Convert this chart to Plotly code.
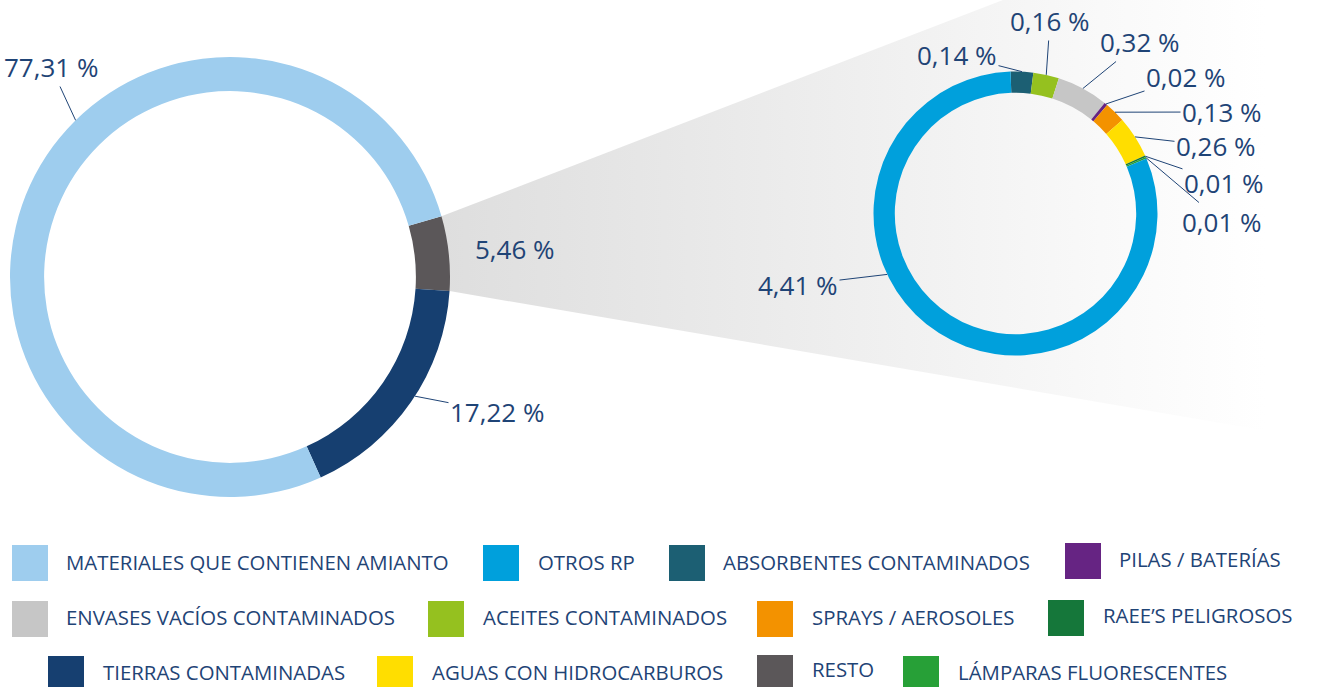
import math
import plotly.graph_objects as go

W, H = 1317, 687

# ---------------- DATA ----------------
main_labels = ["RESTO", "TIERRAS CONTAMINADAS", "MATERIALES QUE CONTIENEN AMIANTO"]
main_values = [5.46, 17.22, 77.31]

detail_labels = ["ABSORBENTES CONTAMINADOS", "ACEITES CONTAMINADOS", "ENVASES VACÍOS CONTAMINADOS",
                 "PILAS / BATERÍAS", "SPRAYS / AEROSOLES", "AGUAS CON HIDROCARBUROS",
                 "RAEE’S PELIGROSOS", "LÁMPARAS FLUORESCENTES", "OTROS RP"]
detail_values = [0.14, 0.16, 0.32, 0.02, 0.13, 0.26, 0.01, 0.01, 4.41]

legend_labels = ["MATERIALES QUE CONTIENEN AMIANTO", "OTROS RP", "ABSORBENTES CONTAMINADOS", "PILAS / BATERÍAS",
                 "ENVASES VACÍOS CONTAMINADOS", "ACEITES CONTAMINADOS", "SPRAYS / AEROSOLES", "RAEE’S PELIGROSOS",
                 "TIERRAS CONTAMINADAS", "AGUAS CON HIDROCARBUROS", "RESTO", "LÁMPARAS FLUORESCENTES"]

colors = {
    "MATERIALES QUE CONTIENEN AMIANTO": "#9ecdee",
    "OTROS RP": "#00a0dc",
    "ABSORBENTES CONTAMINADOS": "#1c5f73",
    "PILAS / BATERÍAS": "#662483",
    "ENVASES VACÍOS CONTAMINADOS": "#c6c6c6",
    "ACEITES CONTAMINADOS": "#95c11f",
    "SPRAYS / AEROSOLES": "#f39200",
    "RAEE’S PELIGROSOS": "#15773a",
    "TIERRAS CONTAMINADAS": "#163f70",
    "AGUAS CON HIDROCARBUROS": "#ffde00",
    "RESTO": "#5b5759",
    "LÁMPARAS FLUORESCENTES": "#27a037",
}

# ---------------- LAYOUT / STYLE ----------------
FONT = "Open Sans"
TXT = "#1f4476"
NUM_SIZE = 26
LEG_SIZE = 20.4

LEFT = dict(cx=230, cy=277, r=220, hole=0.845, rot=74)
RIGHT = dict(cx=1015.5, cy=213.5, r=142, hole=0.85, rot=-2)

# label text centres (pixels) and anchor fraction along slice
main_label_pos = {"RESTO": (515, 249, None),
                  "TIERRAS CONTAMINADAS": (497, 412, 0.47),
                  "MATERIALES QUE CONTIENEN AMIANTO": (51, 67, 0.574)}
detail_label_pos = [(957, 55, 0.5), (1050, 21, 0.5), (1140, 42, 0.5), (1186, 77, 0.5),
                    (1222, 112, 0.5), (1216, 146, 0.5), (1224, 183, 0.5), (1222, 222, 0.5),
                    (798, 285, 0.61)]

legend_pos = [  # square x, square y, text x, text y
    (12, 545, 64, 562), (483, 545, 536, 562), (669, 545, 721, 562), (1065, 543, 1117, 559),
    (12, 601, 64, 617), (428, 601, 481, 617), (757, 601, 810, 617), (1048, 600, 1101, 615),
    (48, 656, 101, 672), (377, 656, 430, 672), (757, 655, 810, 669), (903, 656, 956, 672),
]
SQ = 36

cone_top_far = (1003, 0)
cone_bottom_slope = 0.171


def fmt(v):
    return f"{v:.2f}".replace(".", ",") + " %"


def point(p, ang_deg, rad):
    a = math.radians(ang_deg)
    return p["cx"] + rad * math.sin(a), p["cy"] - rad * math.cos(a)


def slice_angles(p, values):
    tot = sum(values)
    out, cum = [], 0.0
    for v in values:
        a0 = p["rot"] + cum / tot * 360
        a1 = p["rot"] + (cum + v) / tot * 360
        out.append((a0, a1))
        cum += v
    return out


def domain(p):
    return dict(x=[(p["cx"] - p["r"]) / W, (p["cx"] + p["r"]) / W],
                y=[1 - (p["cy"] + p["r"]) / H, 1 - (p["cy"] - p["r"]) / H])


fig = go.Figure()

# gradient cone from RESTO slice to detail donut
main_ang = slice_angles(LEFT, main_values)
r0, r1 = main_ang[main_labels.index("RESTO")]
P1 = point(LEFT, r0, LEFT["r"])
P2 = point(LEFT, r1, LEFT["r"])
tx = (cone_top_far[0] - P1[0]) / (P1[1] - cone_top_far[1])
top_ext = (P1[0] + tx * (P1[1] + 40), -40)
bot_ext = (W + 20, P2[1] + cone_bottom_slope * (W + 20 - P2[0]))
fig.add_trace(go.Scatter(
    x=[P1[0], top_ext[0], W + 20, bot_ext[0], P2[0], P1[0]],
    y=[P1[1], top_ext[1], -40, bot_ext[1], P2[1], P1[1]],
    mode="lines", line=dict(width=0), fill="toself",
    fillgradient=dict(type="horizontal",
                      colorscale=[[0, "#dedede"], [0.45, "#ededed"], [0.8, "#f9f9f9"], [1, "#ffffff"]],
                      start=P1[0], stop=1265),
    hoverinfo="skip", showlegend=False))

fig.add_trace(go.Pie(values=main_values, labels=main_labels, sort=False, direction="clockwise",
                     rotation=LEFT["rot"], hole=LEFT["hole"], domain=domain(LEFT),
                     marker=dict(colors=[colors[l] for l in main_labels], line=dict(width=0)),
                     textinfo="none", hoverinfo="skip", showlegend=False))
fig.add_trace(go.Pie(values=detail_values, labels=detail_labels, sort=False, direction="clockwise",
                     rotation=RIGHT["rot"], hole=RIGHT["hole"], domain=domain(RIGHT),
                     marker=dict(colors=[colors[l] for l in detail_labels], line=dict(width=0)),
                     textinfo="none", hoverinfo="skip", showlegend=False))

annotations = []
for lab, v, (a0, a1) in zip(main_labels, main_values, main_ang):
    x, y, frac = main_label_pos[lab]
    if frac is None:
        annotations.append(dict(x=x, y=y, xref="x", yref="y", text=fmt(v), showarrow=False,
                                font=dict(size=NUM_SIZE, color=TXT, family=FONT)))
    else:
        ax_, ay_ = point(LEFT, a0 + frac * (a1 - a0), LEFT["r"])
        annotations.append(dict(x=ax_, y=ay_, xref="x", yref="y", ax=x, ay=y, axref="x", ayref="y",
                                text=fmt(v), showarrow=True, arrowhead=0, arrowwidth=1, arrowcolor=TXT,
                                font=dict(size=NUM_SIZE, color=TXT, family=FONT)))

det_ang = slice_angles(RIGHT, detail_values)
for v, (a0, a1), (x, y, frac) in zip(detail_values, det_ang, detail_label_pos):
    ax_, ay_ = point(RIGHT, a0 + frac * (a1 - a0), RIGHT["r"])
    annotations.append(dict(x=ax_, y=ay_, xref="x", yref="y", ax=x, ay=y, axref="x", ayref="y",
                            text=fmt(v), showarrow=True, arrowhead=0, arrowwidth=1, arrowcolor=TXT,
                            font=dict(size=NUM_SIZE, color=TXT, family=FONT)))

shapes = []
for lab, (sx, sy, tx_, ty_) in zip(legend_labels, legend_pos):
    shapes.append(dict(type="rect", xref="x", yref="y", x0=sx, x1=sx + SQ, y0=sy, y1=sy + SQ,
                       fillcolor=colors[lab], line=dict(width=0), layer="above"))
    annotations.append(dict(x=tx_, y=ty_, xref="x", yref="y", text=lab, showarrow=False,
                            xanchor="left", yanchor="middle",
                            font=dict(size=LEG_SIZE, color=TXT, family=FONT)))

fig.update_layout(
    width=W, height=H, margin=dict(l=0, r=0, t=0, b=0),
    paper_bgcolor="white", plot_bgcolor="rgba(0,0,0,0)",
    xaxis=dict(range=[0, W], visible=False, fixedrange=True),
    yaxis=dict(range=[H, 0], visible=False, fixedrange=True),
    annotations=annotations, shapes=shapes, showlegend=False,
    font=dict(family=FONT),
)

fig.write_html("out.html", config={"displayModeBar": False},
               post_script="document.body.style.margin='0';document.body.style.overflow='hidden';")
